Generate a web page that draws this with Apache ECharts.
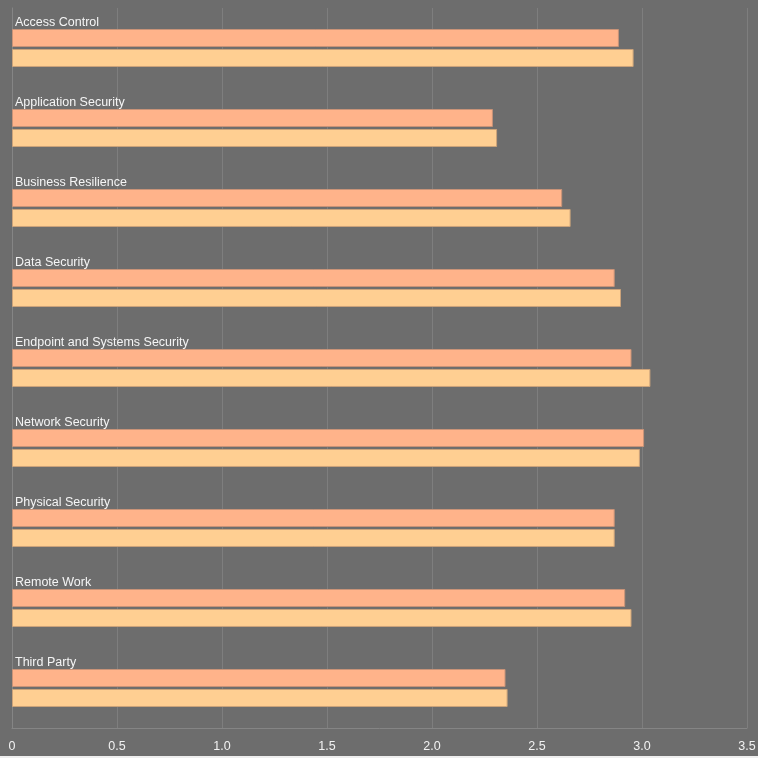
<!DOCTYPE html>
<html lang="en">
<head>
    <meta charset="UTF-8">
    <title>Security domains</title>
    <style>
        html, body { margin: 0; padding: 0; background: #eeeeee; }
        #container { width: 758px; height: 756px; }
    </style>
</head>
<script src="https://fastly.jsdelivr.net/npm/echarts@6/dist/echarts.min.js"></script>
<body>
<div id="container"></div>

<script type="text/javascript">
    var categories = ['Access Control', 'Application Security', 'Business Resilience', 'Data Security',
        'Endpoint and Systems Security', 'Network Security', 'Physical Security', 'Remote Work', 'Third Party'];
    var seriesA = [2.89, 2.29, 2.62, 2.87, 2.95, 3.01, 2.87, 2.92, 2.35];
    var seriesB = [2.96, 2.31, 2.66, 2.90, 3.04, 2.99, 2.87, 2.95, 2.36];
    var tickLabels = ['0', '0.5', '1.0', '1.5', '2.0', '2.5', '3.0', '3.5'];

    var dom = document.getElementById('container');
    var myChart = echarts.init(dom, null, { renderer: 'canvas' });

    var option = {
        backgroundColor: '#6d6d6d',
        animation: false,
        textStyle: { fontFamily: 'Liberation Sans, Arial, sans-serif' },
        grid: { left: 12, right: 11, top: 8, bottom: 28, containLabel: false, outerBoundsMode: 'none' },
        xAxis: {
            type: 'value',
            min: 0,
            max: 3.5,
            interval: 0.5,
            axisLine: { show: true, lineStyle: { color: '#858585', width: 1 } },
            axisTick: { show: false },
            splitLine: { show: true, lineStyle: { color: '#7e7e7e', width: 1 } },
            axisLabel: {
                color: '#f2f2f2',
                fontSize: 12.5,
                margin: 12,
                formatter: function (v) { return tickLabels[Math.round(v / 0.5)]; }
            }
        },
        yAxis: {
            type: 'category',
            data: categories,
            inverse: true,
            axisLine: { show: true, lineStyle: { color: '#858585' } },
            axisTick: { show: false },
            axisLabel: { show: false }
        },
        series: [
            {
                name: 'A',
                type: 'bar',
                data: seriesA,
                barWidth: 18,
                barGap: '11%',
                itemStyle: { color: '#ffb38a', borderColor: '#c99378', borderWidth: 1 },
                label: {
                    show: true,
                    position: [3, -6],
                    align: 'left',
                    verticalAlign: 'middle',
                    color: '#f5f5f5',
                    fontSize: 12.5,
                    formatter: '{b}'
                }
            },
            {
                name: 'B',
                type: 'bar',
                data: seriesB,
                barWidth: 18,
                barGap: '11%',
                itemStyle: { color: '#ffcf92', borderColor: '#cca37a', borderWidth: 1 }
            }
        ]
    };

    myChart.setOption(option);
    window.addEventListener('resize', myChart.resize);
</script>
</body>
</html>
